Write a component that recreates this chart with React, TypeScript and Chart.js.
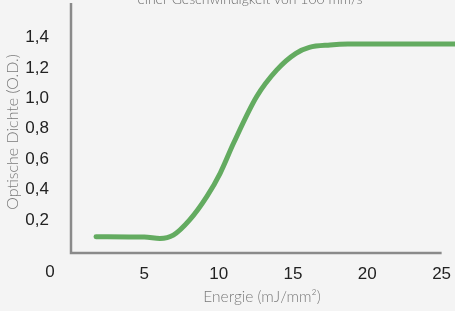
import React, { useEffect, useRef } from "react";
import { Chart, registerables } from "chart.js";

Chart.register(...registerables);

const energy = [1.75, 4.0, 5.0, 6.05, 6.95, 8.05, 9.2, 10.1, 11.0, 12.55, 13.9, 15.2, 16.1, 17.5, 18.7, 22.0, 25.9];
const density = [0.09, 0.088, 0.088, 0.078, 0.1, 0.2, 0.353, 0.507, 0.704, 1.01, 1.185, 1.295, 1.334, 1.35, 1.356, 1.357, 1.357];
const xTickValues = [5, 10, 15, 20, 25];
const yTickValues = [0.2, 0.4, 0.6, 0.8, 1.0, 1.2, 1.4];
const titleText = "einer Geschwindigkeit von 100 mm/s";
const xTitle = "Energie (mJ/mm²)";
const yTitle = "Optische Dichte (O.D.)";
const originLabel = "0";

const LIGHT = "Lato";

const decor = {
  id: "decor",
  beforeDraw(chart: any) {
    const { ctx, width, height } = chart;
    ctx.save();
    ctx.fillStyle = "#f4f4f4";
    ctx.fillRect(0, 0, width, height);
    ctx.restore();
  },
  afterDraw(chart: any) {
    const { ctx, chartArea } = chart;
    const xs = chart.scales.x;
    const ys = chart.scales.y;
    const x0 = chartArea.left + 1;
    const yb = ys.getPixelForValue(0) + 2.5;
    const xr = xs.getPixelForValue(25);
    ctx.save();
    ctx.strokeStyle = "#8a8a8a";
    ctx.lineWidth = 2.5;
    ctx.beginPath();
    ctx.moveTo(x0, chartArea.top);
    ctx.lineTo(x0, yb);
    ctx.lineTo(xr, yb);
    ctx.stroke();

    // top (cut-off) title
    ctx.fillStyle = "#6a6a6a";
    ctx.font = `300 14px ${LIGHT}`;
    ctx.textAlign = "center";
    ctx.textBaseline = "alphabetic";
    ctx.fillText(titleText, 250, 4);

    // x axis title
    ctx.fillStyle = "#7a7a7a";
    ctx.font = `300 15.5px ${LIGHT}`;
    ctx.textBaseline = "middle";
    ctx.fillText(xTitle, 262, 297);

    // y axis title
    ctx.save();
    ctx.translate(13, 132);
    ctx.rotate(-Math.PI / 2);
    ctx.font = `300 16px ${LIGHT}`;
    ctx.fillText(yTitle, 0, 0);
    ctx.restore();

    // origin label
    ctx.fillStyle = "#222";
    ctx.font = `17px "Liberation Sans"`;
    ctx.fillText(originLabel, 50, 272);
    ctx.restore();
  },
};

export default function App() {
  const ref = useRef<HTMLCanvasElement>(null);
  useEffect(() => {
    document.body.style.margin = "0";
    document.body.style.background = "#f4f4f4";
    const chart = new Chart(ref.current as HTMLCanvasElement, {
      type: "line",
      data: {
        datasets: [
          {
            data: energy.map((x, i) => ({ x, y: density[i] })),
            borderColor: "rgb(99,171,96)",
            borderWidth: 5,
            borderCapStyle: "round",
            borderJoinStyle: "round",
            pointRadius: 0,
            cubicInterpolationMode: "monotone",
            fill: false,
          },
        ],
      },
      options: {
        animation: false,
        responsive: false,
        maintainAspectRatio: false,
        layout: { padding: { top: 3, right: 0, left: 0, bottom: 0 } },
        plugins: { legend: { display: false }, tooltip: { enabled: false }, title: { display: false } },
        scales: {
          x: {
            type: "linear",
            min: 0,
            max: 25.9,
            grid: { display: false },
            border: { display: false },
            afterBuildTicks: (s: any) => {
              s.ticks = xTickValues.map((v) => ({ value: v }));
            },
            afterFit: (s: any) => {
              s.height = 59;
              s.paddingLeft = 0;
              s.paddingRight = 0;
            },
            ticks: {
              padding: 4,
              color: "#222",
              font: { family: "Liberation Sans", size: 17 },
              maxRotation: 0,
              autoSkip: false,
              callback: (v: any) => String(v),
            },
          },
          y: {
            min: -0.0105,
            max: 1.626,
            grid: { display: false },
            border: { display: false },
            afterBuildTicks: (s: any) => {
              s.ticks = yTickValues.map((v) => ({ value: v }));
            },
            afterFit: (s: any) => {
              s.width = 70;
              s.paddingTop = 0;
              s.paddingBottom = 0;
            },
            ticks: {
              padding: 13,
              color: "#222",
              font: { family: "Liberation Sans", size: 17 },
              autoSkip: false,
              callback: (v: any) => Number(v).toFixed(1).replace(".", ","),
            },
          },
        },
      },
      plugins: [decor],
    });
    return () => chart.destroy();
  }, []);
  return <canvas ref={ref} width={455} height={311} style={{ display: "block" }} />;
}
